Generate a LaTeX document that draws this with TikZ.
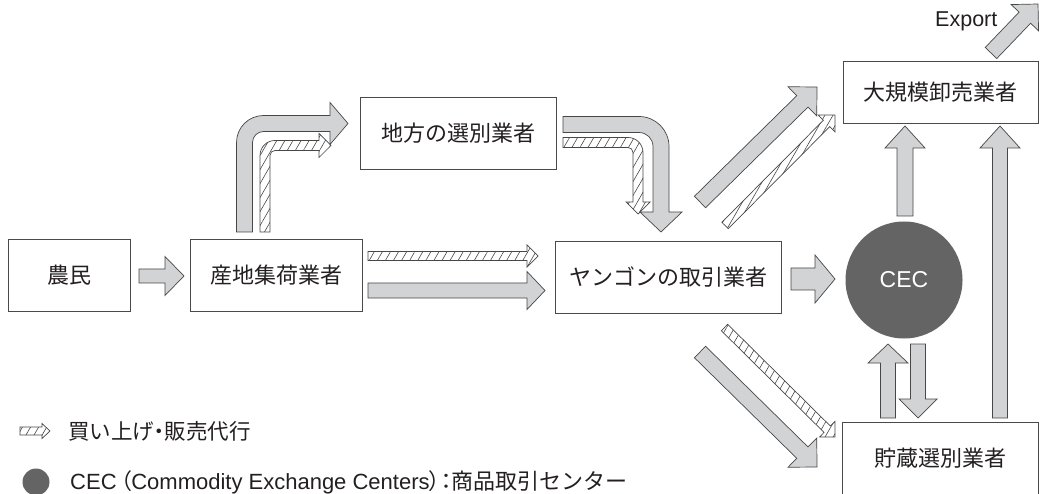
\documentclass[tikz,border=0pt]{standalone}
\usepackage{fontspec}
\setmainfont{Liberation Sans}
\newfontfamily\jp{Noto Sans CJK JP}
\newfontfamily\jpp[RawFeature=+palt]{Noto Sans CJK JP}
\usetikzlibrary{calc,patterns.meta}
\definecolor{arrgray}{HTML}{D2D3D5}
\definecolor{edge}{HTML}{474747}
\definecolor{boxline}{HTML}{4A4A4A}
\definecolor{cecgray}{HTML}{646464}
\definecolor{txt}{HTML}{231F20}
\tikzset{
  box/.style={draw=boxline, line width=0.9pt, text=txt, inner sep=0pt,
    font=\jp\fontsize{22}{26}\selectfont},
  grayarr/.style={fill=arrgray, draw=edge, line width=0.7pt, line join=miter},
  hatcharr/.style={draw=edge, line width=0.7pt, line join=miter,
    pattern={Lines[angle=60,distance=7pt,line width=0.6pt]}, pattern color=edge},
  lbl/.style={text=txt, inner sep=0pt},
}
% straight block arrow: style, tail, tip, shaft half width, head half width, head length
\newcommand\blockarr[6]{%
  \coordinate (T) at #2;
  \coordinate (H) at #3;
  \coordinate (B) at ($(H)!#6!(T)$);
  \draw[#1] ($(T)!#4!90:(H)$) -- ($(B)!#4!90:(H)$) -- ($(B)!#5!90:(H)$) -- (H)
    -- ($(B)!#5!-90:(H)$) -- ($(B)!#4!-90:(H)$) -- ($(T)!#4!-90:(H)$) -- cycle;
}
\begin{document}
\begin{tikzpicture}[x=1pt,y=-1pt]
\useasboundingbox (0,0) rectangle (1041,494);

% boxes
\node[box, minimum width=122pt, minimum height=72pt] (farmer) at (69,275) {農民};
\node[box, minimum width=172pt, minimum height=72pt] (collector) at (276,275) {産地集荷業者};
\node[box, minimum width=196pt, minimum height=72pt] (regional) at (458,133) {地方の選別業者};
\node[box, minimum width=226pt, minimum height=72pt] (yangon) at (668,277) {ヤンゴンの取引業者};
\node[box, minimum width=195pt, minimum height=62pt] (whole) at (940.5,92) {大規模卸売業者};
\node[box, draw=none, minimum width=195pt, minimum height=71pt] (storage) at (940.5,458.5) {貯蔵選別業者};
\draw[boxline, line width=0.9pt] (storage.south west) |- (storage.north east) -- (storage.south east);

% CEC
\node[circle, fill=cecgray, minimum size=117pt, inner sep=0pt, text=white,
  font=\fontsize{23}{27}\selectfont] (cec) at (904,280) {CEC};

% farmer -> collector
\blockarr{grayarr}{(139,276)}{(184,276)}{7pt}{19.5pt}{19pt}

% collector -> regional (bent)
\draw[grayarr] (236.5,232) -- (236.5,142.5) arc[start angle=180,end angle=90,radius=27pt]
  -- (330,115.5) -- (330,102.5) -- (348,123.5) -- (330,144.5) -- (330,131.5)
  -- (263.5,131.5) arc[start angle=90,end angle=180,radius=11pt] -- (252.5,232) -- cycle;
\draw[hatcharr] (260,232) -- (260,155.5) arc[start angle=180,end angle=90,radius=15pt]
  -- (319,140.5) -- (319,133.5) -- (331,145.5) -- (319,157.5) -- (319,150.5)
  -- (275,150.5) arc[start angle=90,end angle=180,radius=5pt] -- (270,232) -- cycle;

% regional -> yangon (bent)
\draw[grayarr] (563,116.5) -- (639,116.5) arc[start angle=90,end angle=0,radius=30pt]
  -- (669,212) -- (682,212) -- (661,232) -- (640,212) -- (653,212)
  -- (653,146.5) arc[start angle=0,end angle=90,radius=14pt] -- (563,132.5) -- cycle;
\draw[hatcharr] (563,137.5) -- (628,137.5) arc[start angle=90,end angle=0,radius=15pt]
  -- (643,202) -- (650,202) -- (638,214) -- (626,202) -- (633,202)
  -- (633,152.5) arc[start angle=0,end angle=90,radius=5pt] -- (563,147.5) -- cycle;

% collector -> yangon
\blockarr{hatcharr}{(368,256)}{(538,256)}{4.5pt}{11pt}{11pt}
\blockarr{grayarr}{(368,290.5)}{(545,290.5)}{7.5pt}{19pt}{18pt}

% yangon -> CEC
\blockarr{grayarr}{(791,279)}{(835,279)}{11pt}{24pt}{20pt}

% yangon -> wholesale (diagonal)
\blockarr{grayarr}{(700,202)}{(817,87)}{8pt}{20.5pt}{20.5pt}
\blockarr{hatcharr}{(725,225.5)}{(835,115)}{4.5pt}{12pt}{12pt}

% yangon -> storage (diagonal)
\blockarr{hatcharr}{(724.5,327.5)}{(835,437)}{4.5pt}{11pt}{11pt}
\blockarr{grayarr}{(700,352)}{(817,467)}{8pt}{20.5pt}{20.5pt}

% CEC -> wholesale
\blockarr{grayarr}{(905,216)}{(905,126)}{8pt}{20pt}{22pt}
% storage -> wholesale
\blockarr{grayarr}{(1000,418)}{(1000,126)}{7.5pt}{20pt}{22pt}
% storage <-> CEC
\blockarr{grayarr}{(888,418)}{(888,344)}{7.5pt}{20pt}{19pt}
\blockarr{grayarr}{(918,344)}{(918,418)}{7.5pt}{19pt}{19pt}

% export
\node[lbl, anchor=base west, font=\fontsize{21.5}{25}\selectfont] (export) at (935,27) {Export};
\blockarr{grayarr}{(991,53)}{(1038,4)}{8pt}{19pt}{19pt}

% legend
\blockarr{hatcharr}{(20,431)}{(50,431)}{4pt}{7.5pt}{8pt}
\node[lbl, anchor=west, font=\jp\fontsize{21.5}{25}\selectfont] (leg1) at (68,431) {買い上げ{\jpp ・}販売代行};
\node[circle, fill=cecgray, minimum size=27pt, inner sep=0pt] (legdot) at (36,482) {};
\node[lbl, anchor=west, font=\fontsize{22}{26}\selectfont] (leg2) at (70,482)
  {CEC\,{\jpp （}Commodity Exchange Centers{\jpp ）：}{\jp 商品取引センター}};
\end{tikzpicture}
\end{document}
